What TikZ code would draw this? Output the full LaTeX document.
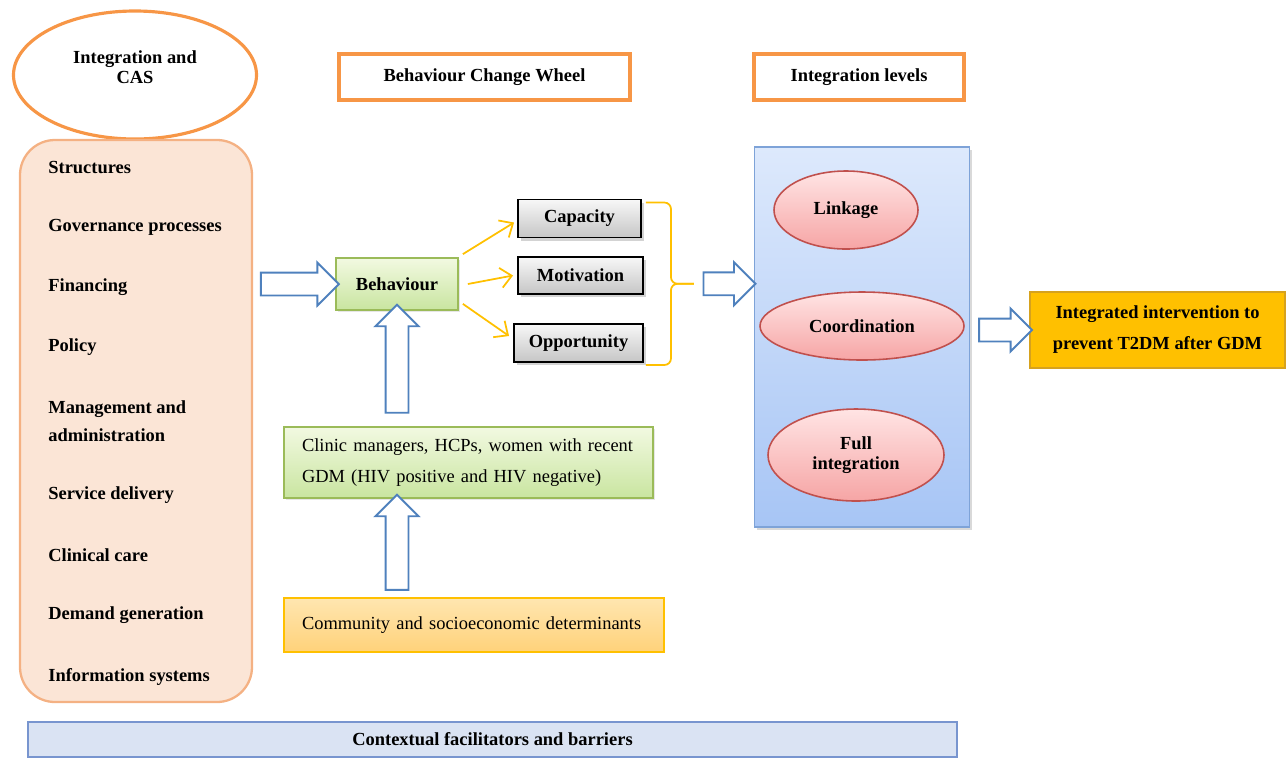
\documentclass[tikz,border=0pt]{standalone}
\usepackage{fontspec}
\setmainfont{Liberation Serif}
\usetikzlibrary{shapes, arrows.meta, positioning, calc, shadows}
\definecolor{cwOrange}{HTML}{F79646}
\definecolor{cwPeach}{HTML}{FBE5D6}
\definecolor{cwPeachLine}{HTML}{F4B183}
\definecolor{cwBlueLine}{HTML}{4F81BD}
\definecolor{cwGreenLine}{HTML}{9BBB59}
\definecolor{cwGreenTop}{HTML}{F2F9E1}
\definecolor{cwGreenBot}{HTML}{C9E5A0}
\definecolor{cwGold}{HTML}{FFC000}
\definecolor{cwGoldLine}{HTML}{D6A21E}
\definecolor{cwSandTop}{HTML}{FFE6B0}
\definecolor{cwSandBot}{HTML}{FFD27A}
\definecolor{cwSkyTop}{HTML}{DDE9FC}
\definecolor{cwSkyBot}{HTML}{A7C5F5}
\definecolor{cwSkyLine}{HTML}{7EA3D8}
\definecolor{cwPinkTop}{HTML}{FFE4E4}
\definecolor{cwPinkBot}{HTML}{F6A5A5}
\definecolor{cwRedLine}{HTML}{C0504D}
\definecolor{cwBar}{HTML}{DAE3F3}
\definecolor{cwBarLine}{HTML}{7895CF}

\begin{document}
\begin{tikzpicture}[x=0.2mm,y=-0.2mm,
    bftext/.style={font=\fontsize{10.5}{#1}\selectfont\bfseries}, bftext/.default=13,
    rmtext/.style={font=\fontsize{10.5}{#1}\selectfont}, rmtext/.default=13,
    titlebox/.style={draw=cwOrange, line width=2.6pt, fill=white, minimum height=9.2mm, bftext},
    greybox/.style={draw=black, line width=1.1pt, top color=gray!6, bottom color=gray!45, minimum height=7.6mm, bftext,
      drop shadow={shadow xshift=0.5mm, shadow yshift=-0.6mm, opacity=0.35}},
    greenbox/.style={draw=cwGreenLine, line width=1pt, top color=cwGreenTop, bottom color=cwGreenBot,
      drop shadow={shadow xshift=0.4mm, shadow yshift=-0.4mm, opacity=0.2}},
    level/.style={ellipse, draw=cwRedLine, line width=0.9pt, top color=cwPinkTop, bottom color=cwPinkBot, align=center, inner sep=0pt, bftext=11.4},
    fatarrow/.style={single arrow, draw=cwBlueLine, fill=white, line width=1.1pt, inner xsep=0pt, inner ysep=2.1mm,
      single arrow head extend=2mm, single arrow head indent=0pt},
    orarrow/.style={draw=cwGold, line width=1pt, -{Straight Barb[length=2.2mm,width=4mm]}},
    bracestyle/.style={draw=cwGold, line width=1pt, rounded corners=1.3mm}]
  \useasboundingbox (0,0) rectangle (1288,761);

  \node[ellipse, draw=cwOrange, line width=1.8pt, minimum width=48.6mm, minimum height=25.6mm] (cas) at (135,75) {};
  \node[bftext=11.4, align=center] (castext) at (135,67) {Integration and\\CAS};
  \node[titlebox, minimum width=58.2mm] (bcw) at (484.5,77) {Behaviour Change Wheel};
  \node[titlebox, minimum width=42mm] (il) at (859,77) {Integration levels};

  \node[draw=cwPeachLine, line width=1.3pt, fill=cwPeach, rounded corners=7mm, minimum width=46.4mm, minimum height=112.4mm] (blocks) at (136,421) {};
  \foreach \txt/\y [count=\i] in {Structures/167, Governance processes/227, Financing/287, Policy/347,
      {Management and\\administration}/421, Service delivery/495, Clinical care/555, Demand generation/615, Information systems/677}
    \node[bftext=16, anchor=west, align=left, inner sep=0pt] (blk\i) at (48,\y) {\txt};

  \node[greenbox, minimum width=24.4mm, minimum height=10.4mm, bftext] (beh) at (397,284) {Behaviour};
  \node[greybox, minimum width=24.6mm] (cap) at (579.5,218.5) {Capacity};
  \node[greybox, minimum width=25mm, minimum height=7.4mm] (mot) at (580.5,275.5) {Motivation};
  \node[greybox, minimum width=25.8mm] (opp) at (578.5,343) {Opportunity};

  \node[greenbox, minimum width=73.8mm, minimum height=14.2mm, text width=66.6mm, inner xsep=3.6mm, align=left, rmtext=17.6] (who) at (468.5,462.5)
    {Clinic managers, HCPs, women with recent\\GDM (HIV positive and HIV negative)};
  \node[draw=cwGold, line width=1pt, top color=cwSandTop, bottom color=cwSandBot, minimum width=76mm, minimum height=10.8mm,
    text width=68.8mm, inner xsep=3.6mm, align=left, rmtext] (comm) at (474,625) {Community and socioeconomic determinants};

  \node[draw=cwSkyLine, line width=1.1pt, top color=cwSkyTop, bottom color=cwSkyBot, minimum width=43mm, minimum height=76mm,
    drop shadow={shadow xshift=0.5mm, shadow yshift=-0.6mm, opacity=0.3}] (levels) at (862,337) {};
  \node[level, minimum width=28.8mm, minimum height=15.6mm] (link) at (846,210) {Linkage};
  \node[level, minimum width=40.8mm, minimum height=13.6mm] (coord) at (862,326) {Coordination};
  \node[level, minimum width=35.2mm, minimum height=18.4mm] (full) at (856,455) {Full\\integration};

  \node[draw=cwGoldLine, line width=0.9pt, fill=cwGold, minimum width=51mm, minimum height=15.2mm, align=center, bftext=17.6] (goal) at (1157.5,330)
    {Integrated intervention to\\prevent T2DM after GDM};

  \node[draw=cwBarLine, line width=1.2pt, fill=cwBar, minimum width=185.8mm, minimum height=7mm, bftext] (context) at (492.5,739.5)
    {Contextual facilitators and barriers};

  \draw[orarrow] ([shift={(4,-3)}]beh.north east) -- ([shift={(-3,4)}]cap.west);
  \draw[orarrow] ([xshift=1.8mm]beh.east) -- ([xshift=-0.8mm]mot.west);
  \draw[orarrow] ([shift={(4,-7)}]beh.south east) -- ([shift={(-4,-7)}]opp.west);

  \coordinate (brtop) at ($(opp.east |- cap.north)+(2,4)$);
  \coordinate (brbot) at ($(opp.south east)+(2,2)$);
  \coordinate (brmid) at ($(brtop)!0.5!(brbot)+(25,0)$);
  \coordinate (bcwtip) at ($(brmid)+(23,0)$);
  \draw[bracestyle] (brtop) -| (brmid) -- (bcwtip);
  \draw[bracestyle] (brbot) -| (brmid) -- (bcwtip);

  \node[fatarrow, minimum height=15.6mm] (a1) at ($(blocks.east |- beh.west)!0.5!(beh.west)$) {};
  \node[fatarrow, minimum height=21.6mm, rotate=90] (a2) at ($(beh.south)!0.5!(beh.south |- who.north)+(0,-4)$) {};
  \node[fatarrow, minimum height=19mm, rotate=90] (a3) at ($(who.south -| beh.south)!0.5!(comm.north -| beh.south)$) {};
  \node[fatarrow, minimum height=10.4mm] (a4) at ($(bcwtip)!0.5!(levels.west |- bcwtip)$) {};
  \node[fatarrow, minimum height=10.6mm] (a5) at ($(levels.east |- goal.west)!0.5!(goal.west)$) {};
\end{tikzpicture}
\end{document}
